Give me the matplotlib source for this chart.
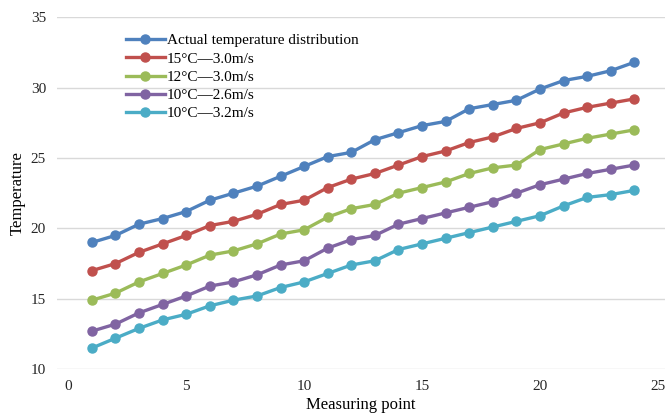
import numpy as np
import matplotlib
matplotlib.use('Agg')
import matplotlib.pyplot as plt

plt.rcParams['font.family'] = ['Liberation Serif', 'DejaVu Serif']

points = list(range(1, 25))
labels = ['Actual temperature distribution', '15°C—3.0m/s', '12°C—3.0m/s',
          '10°C—2.6m/s', '10°C—3.2m/s']
actual = [19.0, 19.5, 20.3, 20.7, 21.2, 22.0, 22.5, 23.0, 23.7, 24.4, 25.1, 25.4,
          26.3, 26.8, 27.3, 27.6, 28.5, 28.8, 29.1, 29.9, 30.5, 30.8, 31.2, 31.8]
t15_30 = [17.0, 17.5, 18.3, 18.9, 19.5, 20.2, 20.5, 21.0, 21.7, 22.0, 22.9, 23.5,
          23.9, 24.5, 25.1, 25.5, 26.1, 26.5, 27.1, 27.5, 28.2, 28.6, 28.9, 29.2]
t12_30 = [14.9, 15.4, 16.2, 16.8, 17.4, 18.1, 18.4, 18.9, 19.6, 19.9, 20.8, 21.4,
          21.7, 22.5, 22.9, 23.3, 23.9, 24.3, 24.5, 25.6, 26.0, 26.4, 26.7, 27.0]
t10_26 = [12.7, 13.2, 14.0, 14.6, 15.2, 15.9, 16.2, 16.7, 17.4, 17.7, 18.6, 19.2,
          19.5, 20.3, 20.7, 21.1, 21.5, 21.9, 22.5, 23.1, 23.5, 23.9, 24.2, 24.5]
t10_32 = [11.5, 12.2, 12.9, 13.5, 13.9, 14.5, 14.9, 15.2, 15.8, 16.2, 16.8, 17.4,
          17.7, 18.5, 18.9, 19.3, 19.7, 20.1, 20.5, 20.9, 21.6, 22.2, 22.4, 22.7]
colors = ['#4F81BD', '#C0504D', '#9BBB59', '#8064A2', '#4BACC6']

fig = plt.figure(figsize=(6.65, 4.2), dpi=100)
ax = fig.add_axes([0.086, 0.121, 0.914, 0.838])

for ys, lab, c in zip([actual, t15_30, t12_30, t10_26, t10_32], labels, colors):
    ax.plot(points, ys, '-o', color=c, lw=2.4, ms=6.5, label=lab)

ax.set_xlim(-0.47, 25.3)
ax.set_ylim(10, 35)
ax.set_xticks(range(0, 26, 5))
ax.set_yticks(range(10, 36, 5))
ax.yaxis.grid(True, color='#d9d9d9', lw=1)
ax.set_axisbelow(True)
for s in ax.spines.values():
    s.set_visible(False)
ax.tick_params(length=0, labelsize=11, colors='#262626', pad=8)
ax.set_xlabel('Measuring point', fontsize=12, labelpad=3)
ax.set_ylabel('Temperature', fontsize=12, labelpad=4)

ax.legend(loc='upper left', bbox_to_anchor=(0.1, 0.975), frameon=False,
          fontsize=11, handlelength=2.6, handletextpad=0.1, labelspacing=0.3,
          borderpad=0)

fig.savefig('out.png', dpi=100)
